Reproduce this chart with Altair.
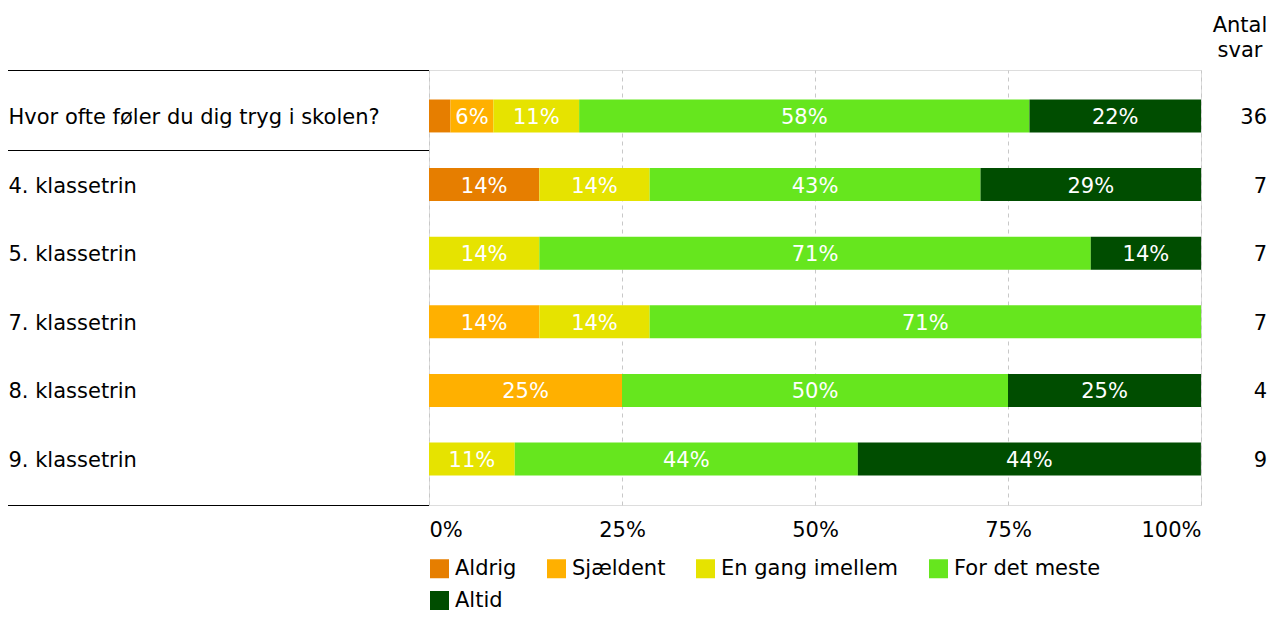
import altair as alt
import pandas as pd

categories = ["Aldrig", "Sjældent", "En gang imellem", "For det meste", "Altid"]
colors = ["#E67E00", "#FFB000", "#E6E300", "#66E61E", "#004D00"]
rows = ["Hvor ofte føler du dig tryg i skolen?", "4. klassetrin", "5. klassetrin",
        "7. klassetrin", "8. klassetrin", "9. klassetrin"]
counts = [36, 7, 7, 7, 4, 9]
aldrig = [2.78, 14.29, 0, 0, 0, 0]
sjaeldent = [5.56, 0, 0, 14.29, 25, 0]
engang = [11.11, 14.29, 14.29, 14.29, 0, 11.11]
meste = [58.33, 42.86, 71.43, 71.43, 50, 44.44]
altid = [22.22, 28.57, 14.29, 0, 25, 44.44]

series = [aldrig, sjaeldent, engang, meste, altid]
recs = []
for ci, (cat, vals) in enumerate(zip(categories, series)):
    for r, v in zip(rows, vals):
        recs.append({"row": r, "cat": cat, "order": ci, "value": v})
df = pd.DataFrame(recs)
df_counts = pd.DataFrame({"row": rows, "n": counts})

FONT = "Verdana, DejaVu Sans"
FS = 21

yenc = alt.Y("row:N", sort=rows,
             scale=alt.Scale(paddingInner=0.52, paddingOuter=0.43),
             axis=alt.Axis(title=None, domain=False, ticks=False, labelAlign="left",
                           labelPadding=421, labelLimit=600, labelFontSize=FS,
                           labelColor="black", labelFont=FONT, labelOffset=2))

bars = alt.Chart(df).transform_filter("datum.value > 0").mark_bar().encode(
    x=alt.X("value:Q", stack="zero",
            scale=alt.Scale(domain=[0, 100], nice=False),
            axis=alt.Axis(values=[0, 25, 50, 75, 100], labelExpr="datum.value + '%'",
                          title=None, domain=False, ticks=False, labelFlush=True,
                          labelPadding=14, labelFontSize=FS, labelColor="black",
                          labelFont=FONT, grid=True, gridDash=[4, 4],
                          gridColor="#c8c8c8")),
    y=yenc,
    color=alt.Color("cat:N", sort=categories,
                    scale=alt.Scale(domain=categories, range=colors),
                    legend=alt.Legend(title=None, orient="none", legendX=0, legendY=488,
                                      direction="horizontal", columns=4,
                                      symbolType="square", symbolSize=361,
                                      symbolStrokeWidth=0, labelFontSize=FS,
                                      labelFont=FONT, labelColor="black",
                                      labelOffset=5, columnPadding=29, rowPadding=10,
                                      labelLimit=400)),
    order=alt.Order("order:Q"),
)

labels = alt.Chart(df).transform_filter("datum.value > 0").transform_stack(
    stack="value", groupby=["row"], as_=["x0", "x1"],
    sort=[alt.SortField("order", order="ascending")]
).transform_filter("datum.value >= 5").transform_calculate(
    mid="(datum.x0 + datum.x1) / 2",
    lab="round(datum.value) + '%'"
).mark_text(color="white", fontSize=FS, font=FONT, dy=2).encode(
    x=alt.X("mid:Q"),
    y=alt.Y("row:N", sort=rows),
    text="lab:N",
)

nums = alt.Chart(df_counts).mark_text(align="right", fontSize=FS, font=FONT,
                                      color="black", dy=2).encode(
    x=alt.value(838),
    y=alt.Y("row:N", sort=rows),
    text="n:Q",
)

header = alt.Chart(pd.DataFrame({"t": ["Antal svar"]})).mark_text(
    text=["Antal", "svar"], align="center", baseline="middle", fontSize=FS,
    font=FONT, color="black", lineHeight=25
).encode(x=alt.value(811), y=alt.value(-44.5))

def hline(ypix):
    return alt.Chart(pd.DataFrame({"a": [0]})).mark_rule(color="black", strokeWidth=1).encode(
        x=alt.value(-421), x2=alt.value(0), y=alt.value(ypix))

chart = alt.layer(bars, labels, nums, header, hline(0.5), hline(80.5), hline(435.5)).properties(
    width=772, height=435,
    autosize=alt.AutoSizeParams(type="none"),
    padding={"left": 421, "top": 62, "right": 67, "bottom": 105},
).configure_view(stroke="#999999", strokeWidth=1).configure(font=FONT)

chart.save("out.html", embed_options={"renderer": "svg", "actions": False})
